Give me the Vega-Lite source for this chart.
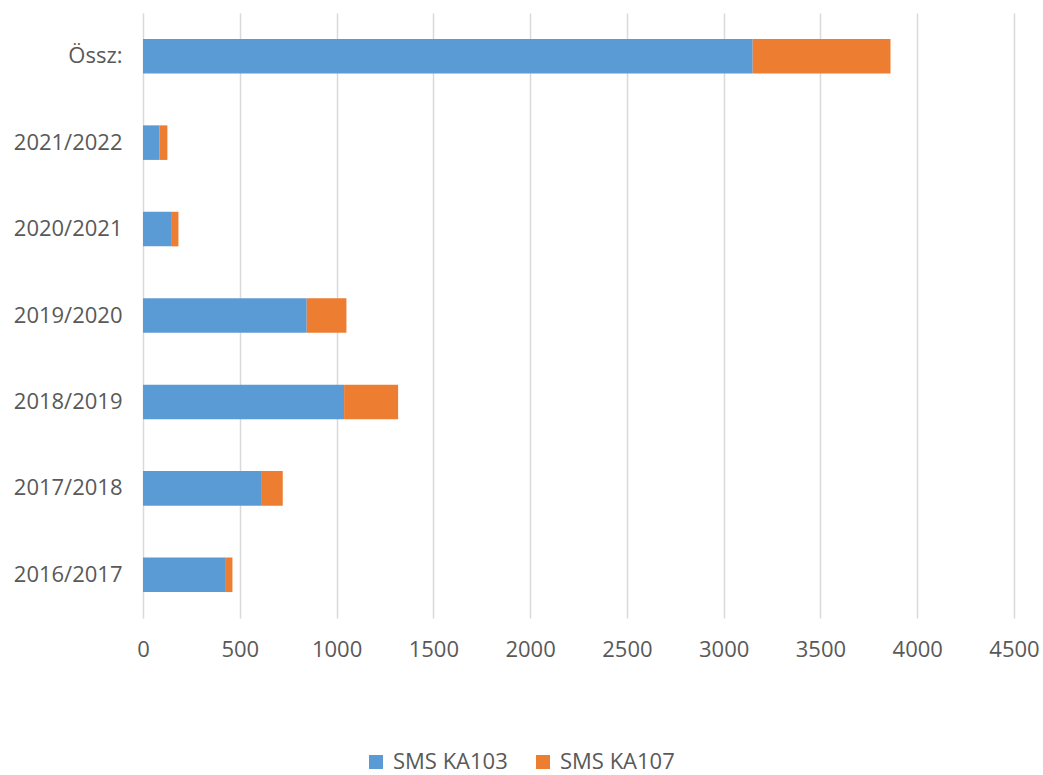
{
  "$schema": "https://vega.github.io/schema/vega-lite/v6.json",
  "width": 871,
  "height": 605,
  "autosize": "none",
  "padding": {"left": 143, "top": 13, "right": 29, "bottom": 157},
  "config": {
    "view": {"stroke": null},
    "font": "Open Sans"
  },
  "data": {
    "values": [
      {"ev": "Össz:", "tipus": "SMS KA103", "letszam": 3150},
      {"ev": "Össz:", "tipus": "SMS KA107", "letszam": 712},
      {"ev": "2021/2022", "tipus": "SMS KA103", "letszam": 86},
      {"ev": "2021/2022", "tipus": "SMS KA107", "letszam": 40},
      {"ev": "2020/2021", "tipus": "SMS KA103", "letszam": 145},
      {"ev": "2020/2021", "tipus": "SMS KA107", "letszam": 38},
      {"ev": "2019/2020", "tipus": "SMS KA103", "letszam": 846},
      {"ev": "2019/2020", "tipus": "SMS KA107", "letszam": 205},
      {"ev": "2018/2019", "tipus": "SMS KA103", "letszam": 1039},
      {"ev": "2018/2019", "tipus": "SMS KA107", "letszam": 279},
      {"ev": "2017/2018", "tipus": "SMS KA103", "letszam": 610},
      {"ev": "2017/2018", "tipus": "SMS KA107", "letszam": 112},
      {"ev": "2016/2017", "tipus": "SMS KA103", "letszam": 424},
      {"ev": "2016/2017", "tipus": "SMS KA107", "letszam": 38}
    ]
  },
  "mark": {"type": "bar"},
  "encoding": {
    "y": {
      "field": "ev",
      "type": "nominal",
      "sort": ["Össz:", "2021/2022", "2020/2021", "2019/2020", "2018/2019", "2017/2018", "2016/2017"],
      "scale": {"paddingInner": 0.6, "paddingOuter": 0.3},
      "axis": {
        "title": null,
        "domain": false,
        "ticks": false,
        "labelPadding": 21,
        "labelFontSize": 22,
        "labelColor": "#595959"
      }
    },
    "x": {
      "field": "letszam",
      "type": "quantitative",
      "stack": "zero",
      "scale": {"domain": [0, 4500], "nice": false},
      "axis": {
        "title": null,
        "values": [0, 500, 1000, 1500, 2000, 2500, 3000, 3500, 4000, 4500],
        "format": "d",
        "domain": false,
        "ticks": false,
        "labelFlush": false,
        "labelPadding": 21,
        "labelFontSize": 22,
        "labelColor": "#595959",
        "gridColor": "#d9d9d9",
        "gridWidth": 1.5
      }
    },
    "color": {
      "field": "tipus",
      "type": "nominal",
      "scale": {"domain": ["SMS KA103", "SMS KA107"], "range": ["#5B9BD5", "#ED7D31"]},
      "legend": {
        "title": null,
        "orient": "none",
        "legendX": 222,
        "legendY": 738,
        "direction": "horizontal",
        "symbolType": "square",
        "symbolSize": 196,
        "symbolStrokeWidth": 0,
        "labelFontSize": 22,
        "labelColor": "#595959",
        "labelOffset": 6,
        "columnPadding": 24
      }
    }
  }
}
